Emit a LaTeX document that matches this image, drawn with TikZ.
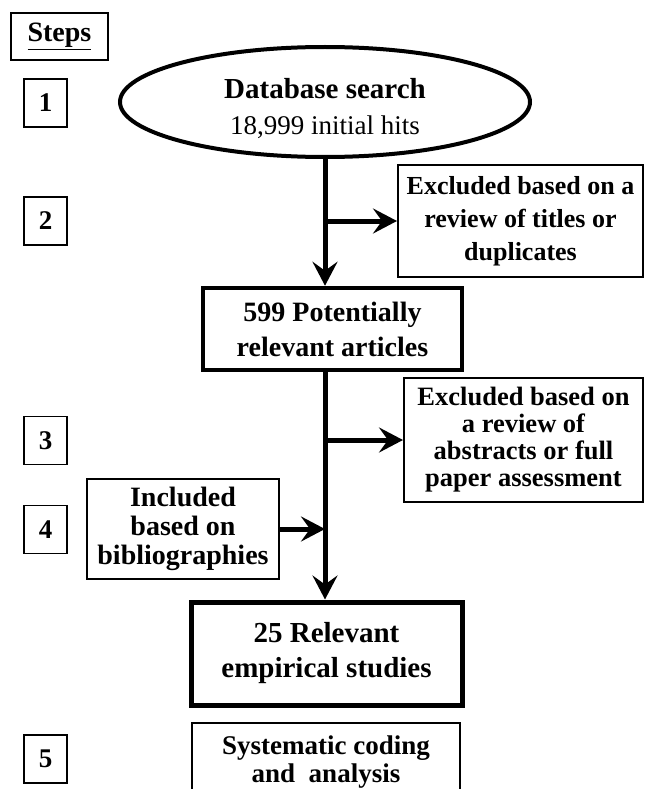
\documentclass[tikz,border=0pt]{standalone}
\usepackage{fontspec}
\setmainfont{Liberation Serif}
\usetikzlibrary{arrows.meta,shapes.geometric}

\begin{document}
\begin{tikzpicture}[x=1pt,y=-1pt,
  numbox/.style={draw,line width=1.5pt,minimum width=43pt,minimum height=48pt,inner sep=0pt,
    font=\fontsize{27}{30}\selectfont\bfseries},
  infobox/.style={draw,line width=2pt,inner sep=0pt,align=center},
  mainbox/.style={draw,line width=4.5pt,inner sep=0pt,align=center},
  flow/.style={line width=5pt,-{Stealth[length=24pt,width=25pt,inset=9pt]}},
  flowline/.style={line width=5pt}]
\clip (0,0) rectangle (645,789);

% step numbers
\node[numbox,minimum width=97pt,minimum height=47pt,font=\fontsize{28}{30}\selectfont\bfseries]
  (steps) at (59.5,36.5) {\underline{Steps}};
\node[numbox] (s1) at (45.5,103) {1};
\node[numbox] (s2) at (45.5,221) {2};
\node[numbox] (s3) at (45.5,440.5) {3};
\node[numbox] (s4) at (45.5,529.5) {4};
\node[numbox] (s5) at (45.5,759) {5};

% flow
\node[draw,ellipse,line width=4pt,minimum width=410pt,minimum height=110pt,inner sep=0pt,align=center,
  font=\fontsize{29}{36}\selectfont\bfseries]
  (db) at (325,102) {\rule{0pt}{33pt}Database search\\
  \fontsize{27}{36}\selectfont\mdseries 18,999 initial hits};
\node[infobox,minimum width=245pt,minimum height=112pt,font=\fontsize{26}{33}\selectfont\bfseries]
  (excl1) at (520.5,221) {Excluded based on a\\review of titles or\\duplicates};
\node[mainbox,minimum width=259pt,minimum height=82pt,font=\fontsize{28}{35}\selectfont\bfseries]
  (pot) at (332.5,329) {599 Potentially\\relevant articles};
\node[infobox,minimum width=239pt,minimum height=124pt,font=\fontsize{26.5}{27}\selectfont\bfseries]
  (excl2) at (523.5,440) {Excluded based on\\a review of\\abstracts or full\\paper assessment};
\node[infobox,minimum width=192pt,minimum height=100pt,font=\fontsize{28}{29}\selectfont\bfseries]
  (incl) at (183,529) {Included\\based on\\bibliographies};
\node[mainbox,line width=5pt,minimum width=271pt,minimum height=103pt,font=\fontsize{29}{35}\selectfont\bfseries]
  (rel) at (326.5,653.5) {25 Relevant\\empirical studies};
\node[infobox,minimum width=268pt,minimum height=78pt,font=\fontsize{27}{28}\selectfont\bfseries]
  (sys) at (326,762) {Systematic coding\\and~~analysis};

\draw[flow] (db.south) -- (db.south |- pot.north);
\draw[flowline] (pot.south -| db.south) -- (incl.east -| db.south);
\draw[flow] (incl.east -| db.south) -- (rel.north -| db.south);
\draw[flow] (db.south |- excl1.west) -- (excl1.west);
\draw[flow] (db.south |- excl2.west) -- (excl2.west);
\draw[flow] (incl.east) -- (incl.east -| db.south);
\end{tikzpicture}
\end{document}
